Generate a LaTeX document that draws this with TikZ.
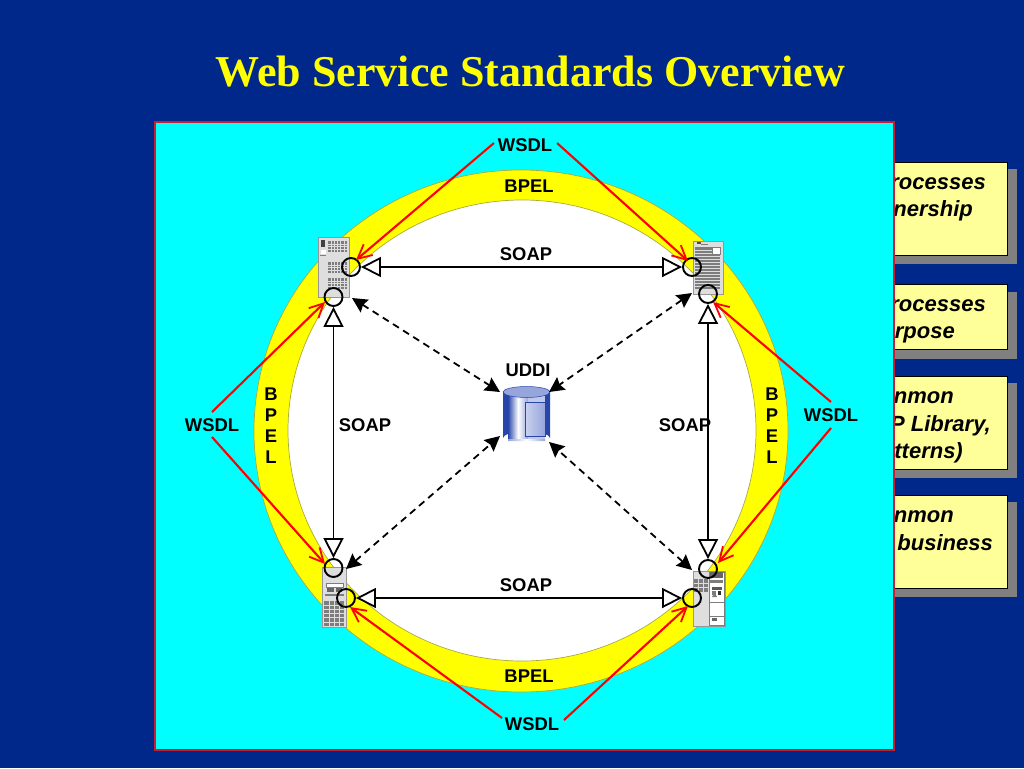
\documentclass[tikz,border=0pt]{standalone}
\usepackage{fontspec}
\setmainfont{Liberation Sans}
\newfontfamily\serifbold[BoldFont=Liberation Serif Bold]{Liberation Serif}
\usetikzlibrary{arrows.meta,shadings}
\definecolor{navybg}{RGB}{0,40,138}
\definecolor{panelred}{RGB}{200,30,50}
\definecolor{purecyan}{RGB}{0,255,255}
\definecolor{pureyellow}{RGB}{255,255,0}
\definecolor{purered}{RGB}{255,0,0}
\definecolor{ringedge}{RGB}{170,170,60}
\definecolor{paleyellow}{RGB}{255,255,153}
\definecolor{srvgrey}{RGB}{222,222,222}
\definecolor{srvdark}{RGB}{125,125,125}
\definecolor{srvedge}{RGB}{150,150,150}
\definecolor{shadegrey}{RGB}{128,128,128}
\definecolor{cylblue}{RGB}{40,70,170}
\definecolor{cylmid}{RGB}{150,165,220}
\newcommand{\gridblk}[6]{%
  \fill[srvdark] (#1,#2) rectangle ++(#3,#4);
  \foreach \i in {1,...,#5} \draw[srvgrey,line width=.45pt] ({#1+\i*#3/(#5+1)},#2) -- ++(0,#4);
  \foreach \j in {1,...,#6} \draw[srvgrey,line width=.45pt] (#1,{#2+\j*#4/(#6+1)}) -- ++(#3,0);
}
\tikzset{
  x=1pt,y=-1pt,
  lbl/.style={font=\fontsize{18.4}{21}\selectfont\bfseries,text=black,inner sep=0pt,align=center},
  boxtxt/.style={font=\fontsize{22}{26}\selectfont\bfseries\itshape,text=black,inner sep=0pt},
  ybox/.style={fill=paleyellow,draw=black,line width=.8pt},
  shadowbox/.style={fill=shadegrey},
  port/.style={circle,draw=black,line width=1.9pt,minimum size=18pt,inner sep=0pt},
  soapline/.style={draw=black,line width=1.5pt,{Triangle[open,fill=white,length=20pt,width=20pt,line width=1.8pt]}-{Triangle[open,fill=white,length=20pt,width=20pt,line width=1.8pt]}},
  dashline/.style={draw=black,line width=1.8pt,dash pattern=on 7pt off 5pt,{Stealth[length=15pt,width=15pt,inset=2pt]}-{Stealth[length=15pt,width=15pt,inset=2pt]}},
  redline/.style={draw=purered,line width=2.1pt,-{Straight Barb[length=14pt,width=14pt,line width=1.8pt]}},
}
\begin{document}
\begin{tikzpicture}
\useasboundingbox (0,0) rectangle (1024,768);
\fill[navybg] (0,0) rectangle (1024,768);
\node[inner sep=0pt,text=pureyellow] (title) at (530.5,72) {\serifbold\fontsize{44}{50}\selectfont\bfseries Web Service Standards Overview};
% side boxes
\fill[shadowbox] (880,169) rectangle (1017,264);
\filldraw[ybox] (870,162) rectangle (1007,255);
\fill[shadowbox] (880,292) rectangle (1017,359);
\filldraw[ybox] (870,284) rectangle (1007,349);
\fill[shadowbox] (880,383) rectangle (1017,478);
\filldraw[ybox] (870,376) rectangle (1007,469);
\fill[shadowbox] (880,502) rectangle (1017,597);
\filldraw[ybox] (870,495) rectangle (1007,588);
\node[boxtxt,anchor=base east] (b1a) at (986,189) {rocesses};
\node[boxtxt,anchor=base east] (b1b) at (973,216) {nership};
\node[boxtxt,anchor=base east] (b2a) at (986,311) {rocesses};
\node[boxtxt,anchor=base east] (b2b) at (955,338) {rpose};
\node[boxtxt,anchor=base east] (b3a) at (954,403) {nmon};
\node[boxtxt,anchor=base east] (b3b) at (991,431) {P Library,};
\node[boxtxt,anchor=base east] (b3c) at (963,458) {tterns)};
\node[boxtxt,anchor=base east] (b4a) at (954,522) {nmon};
\node[boxtxt,anchor=base east] (b4b) at (993,550) {business};
% panel
\filldraw[fill=purecyan,draw=panelred,line width=1.4pt] (155,122) rectangle (894,750);
% ring
\filldraw[fill=pureyellow,draw=ringedge,line width=.7pt] (521,431) ellipse [x radius=267,y radius=261];
\filldraw[fill=white,draw=ringedge,line width=.7pt] (522,430.5) ellipse [x radius=234,y radius=230.5];
% server 1
\filldraw[fill=srvgrey,draw=srvedge,line width=.9pt] (318,237) rectangle (349,297);
\gridblk{328}{241}{19}{11}{5}{3}
\gridblk{328}{262}{19}{11}{5}{3}
\gridblk{328}{278}{19}{11}{5}{3}
\fill[black!75] (321,240) rectangle (325,247);
\fill[white] (321,250) rectangle (326,254);
\fill[srvdark] (320,255) rectangle (326,256);
% server 2
\filldraw[fill=srvgrey,draw=srvedge,line width=.9pt] (693,241) rectangle (723,294);
\fill[srvdark] (695,247) rectangle (720,289);
\foreach \yy in {250,253,...,288} \draw[srvgrey,line width=.5pt] (695,\yy) -- (720,\yy);
\filldraw[fill=white,draw=srvdark,line width=.4pt] (712,247) rectangle (720,254);
\fill[black!70] (697,242) rectangle (701,244);
\fill[srvdark] (701,244) rectangle (708,245);
% server 3
\filldraw[fill=srvgrey,draw=srvedge,line width=.9pt] (322,567) rectangle (346,627);
\filldraw[fill=white,draw=srvdark,line width=.6pt] (326,583) rectangle (343,587);
\fill[black!60] (327,588) rectangle (334,592);
\fill[black!60] (336,588) rectangle (342,592);
\fill[srvdark] (325,594) rectangle (344,596);
\gridblk{324}{601}{20}{25}{3}{5}
% server 4
\filldraw[fill=srvgrey,draw=srvedge,line width=.9pt] (693,571) rectangle (725,626);
\gridblk{694}{579}{14}{13}{2}{2}
\filldraw[fill=white,draw=srvdark,line width=.4pt] (709,572) rectangle (724,625);
\fill[black!60] (710,572) rectangle (723,578);
\fill[srvdark] (710,580) rectangle (723,583);
\fill[black!65] (712,587) rectangle (722,590);
\fill[black!80] (718,591) rectangle (721,595);
\fill[srvdark] (712,591) rectangle (716,595);
\fill[srvdark] (712,597) -- (717,597) -- (714.5,592) -- cycle;
\draw[srvdark,line width=.5pt] (710,602) -- (724,602);
\draw[srvdark,line width=.5pt] (710,616) -- (724,616);
\fill[black!60] (712,618) rectangle (717,621);
% database
\fill[cylblue] (503,392) -- (503,438) arc[start angle=180,end angle=360,x radius=23.5,y radius=6.5] -- (550,392) -- cycle;
\shade[left color=cylblue,right color=cylmid,middle color=white] (508,396) rectangle (528,439);
\fill[cylmid!60!white] (528,396) rectangle (545,439);
\shade[left color=cylmid,right color=cylmid,middle color=white] (508,439) -- (545,439) arc[start angle=20,end angle=160,x radius=0,y radius=0] -- (545,441) -- (508,441) -- cycle;
\filldraw[draw=cylblue,line width=.9pt,left color=cylmid!50!white,right color=cylmid] (525,402) rectangle (545,436);
\filldraw[fill=cylmid,draw=cylblue,line width=.5pt] (526.5,392) ellipse [x radius=23.5,y radius=5.5];
% ports
\node[port] (s1r) at (351,267) {};
\node[port] (s1b) at (333.5,297) {};
\node[port] (s2l) at (692,267) {};
\node[port] (s2b) at (708,294) {};
\node[port] (s3t) at (333.5,568) {};
\node[port] (s3r) at (346,598) {};
\node[port] (s4t) at (708,569) {};
\node[port] (s4l) at (692,598) {};
% labels
\node[lbl] (wsdlT) at (525,145) {WSDL};
\node[lbl] (wsdlL) at (212,425) {WSDL};
\node[lbl] (wsdlR) at (831,415) {WSDL};
\node[lbl] (wsdlB) at (532,724) {WSDL};
\node[lbl] (bpelT) at (529,186) {BPEL};
\node[lbl] (bpelB) at (529,676) {BPEL};
\node[lbl] (bpelL) at (271,426) {B\\P\\E\\L};
\node[lbl] (bpelR) at (772,426) {B\\P\\E\\L};
\node[lbl] (soapT) at (526,254) {SOAP};
\node[lbl] (soapB) at (526,585) {SOAP};
\node[lbl] (soapL) at (365,425) {SOAP};
\node[lbl] (soapR) at (685,425) {SOAP};
\node[lbl] (uddi) at (528,370) {UDDI};
% SOAP connectors
\path[soapline] (s1r) -- (s2l);
\path[soapline] (s3r) -- (s4l);
\path[soapline] (s1b) -- (s3t);
\path[soapline] (s2b) -- (s4t);
% dashed connectors
\coordinate (d1a) at (352,298); \coordinate (d1b) at (500,392);
\coordinate (d2a) at (692,293); \coordinate (d2b) at (549,392);
\coordinate (d3a) at (346,569); \coordinate (d3b) at (500,436);
\coordinate (d4a) at (692,570); \coordinate (d4b) at (549,442);
\path[dashline] (d1a) -- (d1b);
\path[dashline] (d2a) -- (d2b);
\path[dashline] (d3a) -- (d3b);
\path[dashline] (d4a) -- (d4b);
% red connectors
\coordinate (rt1) at (494,143); \coordinate (rt1e) at (356,260);
\coordinate (rt2) at (557,143); \coordinate (rt2e) at (688,261);
\coordinate (rl1) at (212,412); \coordinate (rl1e) at (325,302);
\coordinate (rl2) at (212,437); \coordinate (rl2e) at (325,564);
\coordinate (rr1) at (831,402); \coordinate (rr1e) at (713,302);
\coordinate (rr2) at (831,428); \coordinate (rr2e) at (718,563);
\coordinate (rb1) at (502,718); \coordinate (rb1e) at (350,607);
\coordinate (rb2) at (564,720); \coordinate (rb2e) at (688,606);
\path[redline] (rt1) -- (rt1e);
\path[redline] (rt2) -- (rt2e);
\path[redline] (rl1) -- (rl1e);
\path[redline] (rl2) -- (rl2e);
\path[redline] (rr1) -- (rr1e);
\path[redline] (rr2) -- (rr2e);
\path[redline] (rb1) -- (rb1e);
\path[redline] (rb2) -- (rb2e);
\end{tikzpicture}
\end{document}
